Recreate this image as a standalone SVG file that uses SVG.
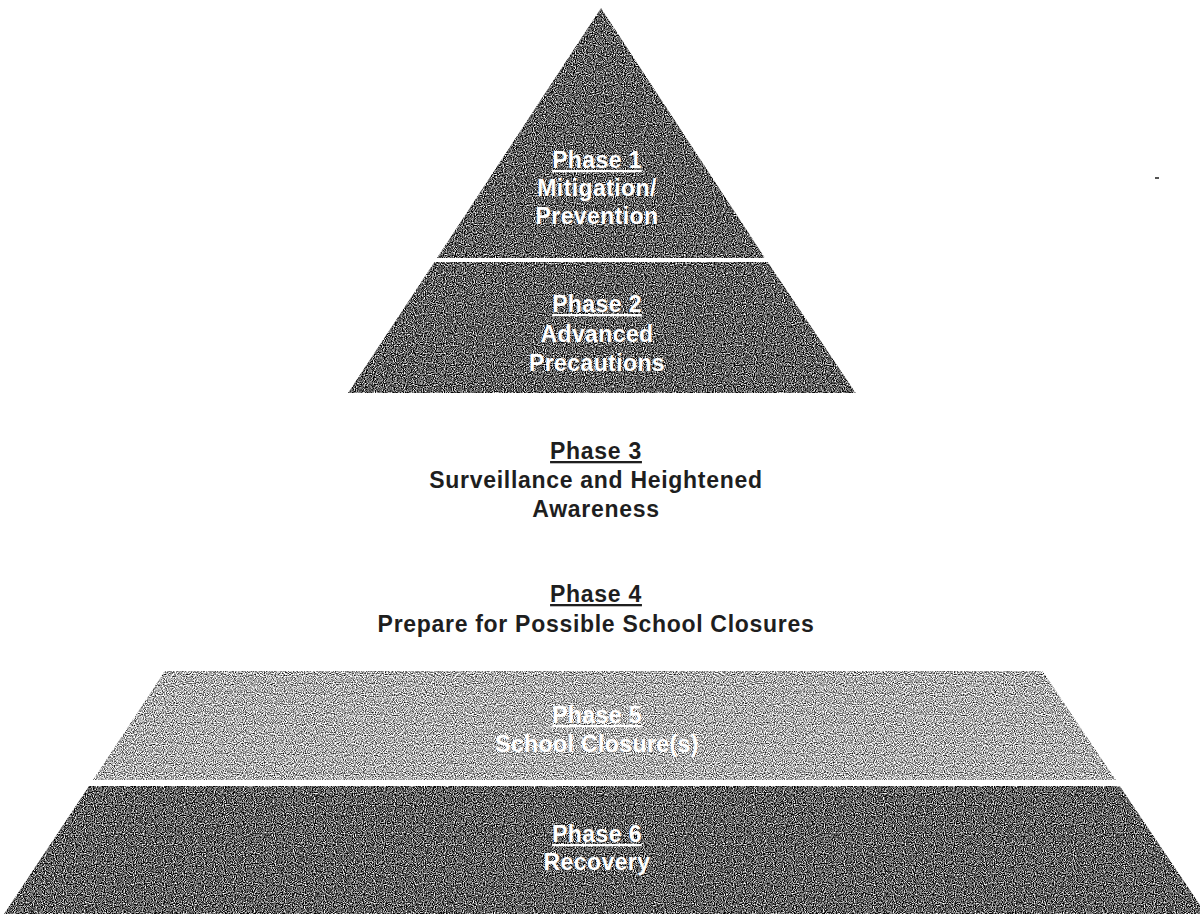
<svg xmlns="http://www.w3.org/2000/svg" width="1200" height="914" viewBox="0 0 1200 914">
<defs>
<filter id="grainDark" x="0" y="0" width="100%" height="100%" color-interpolation-filters="sRGB">
<feTurbulence type="fractalNoise" baseFrequency="0.9" numOctaves="1" seed="4" result="n"/>
<feColorMatrix in="n" type="matrix" values="2.6 0 0 0 -0.93  2.6 0 0 0 -0.93  2.6 0 0 0 -0.93  0 0 0 0 1" result="g"/>
<feComposite in="g" in2="SourceGraphic" operator="in"/>
</filter>
<filter id="grainLight" x="0" y="0" width="100%" height="100%" color-interpolation-filters="sRGB">
<feTurbulence type="fractalNoise" baseFrequency="0.9" numOctaves="1" seed="7" result="n"/>
<feColorMatrix in="n" type="matrix" values="2.4 0 0 0 -0.52  2.4 0 0 0 -0.52  2.4 0 0 0 -0.52  0 0 0 0 1" result="g"/>
<feComposite in="g" in2="SourceGraphic" operator="in"/>
</filter>
</defs>
<style>
.dark{fill:#5a5a5a;filter:url(#grainDark)}
.light{fill:#a8a8a8;filter:url(#grainLight)}
text{font-family:"Liberation Sans",Arial,sans-serif;font-weight:bold;font-size:23px;text-anchor:middle;letter-spacing:0.4px}
.w{fill:#ffffff}
.k{fill:#1e1e1e;letter-spacing:0.7px}
.u{text-decoration:underline}
</style>
<rect width="1200" height="914" fill="#ffffff"/>
<g id="phase1">
<polygon class="dark" points="601,8 437,258 765,258"/>
<text class="w" x="597" y="168"><tspan class="u">Phase 1</tspan></text>
<text class="w" x="597" y="196">Mitigation/</text>
<text class="w" x="597" y="224">Prevention</text>
</g>
<g id="phase2">
<polygon class="dark" points="434.4,262 767.7,262 855.7,393 348,393"/>
<text class="w" x="597" y="312"><tspan class="u">Phase 2</tspan></text>
<text class="w" x="597" y="342">Advanced</text>
<text class="w" x="597" y="371">Precautions</text>
</g>
<g id="phase3">
<text class="k" x="596" y="459"><tspan class="u">Phase 3</tspan></text>
<text class="k" x="596" y="488">Surveillance and Heightened</text>
<text class="k" x="596" y="517">Awareness</text>
</g>
<g id="phase4">
<text class="k" x="596" y="602"><tspan class="u">Phase 4</tspan></text>
<text class="k" x="596" y="632">Prepare for Possible School Closures</text>
</g>
<g id="phase5">
<polygon class="light" points="164.8,671 1042.5,671 1115.8,780 93,780"/>
<text class="w" x="597" y="723"><tspan class="u">Phase 5</tspan></text>
<text class="w" x="597" y="752">School Closure(s)</text>
</g>
<g id="phase6">
<polygon class="dark" points="89,786 1119.8,786 1200,905 1200,914 4,914"/>
<text class="w" x="597" y="842"><tspan class="u">Phase 6</tspan></text>
<text class="w" x="597" y="870">Recovery</text>
</g>
<g id="connectors"/>
<rect x="1155" y="177" width="4" height="2" fill="#555555"/>
</svg>
